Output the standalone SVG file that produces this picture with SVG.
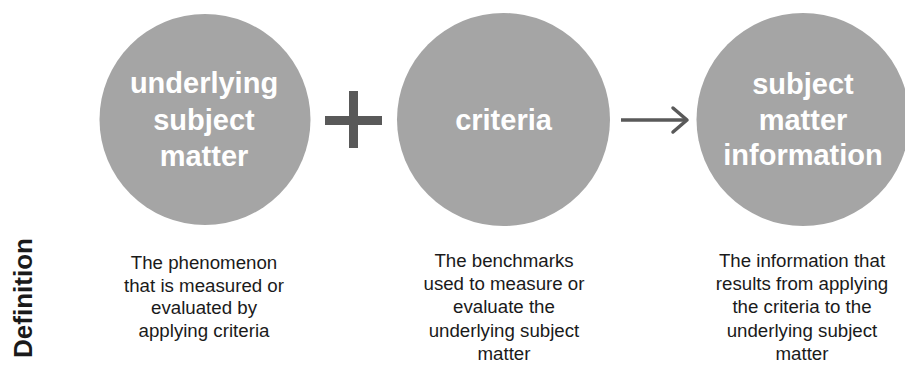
<svg xmlns="http://www.w3.org/2000/svg" width="905" height="367" viewBox="0 0 905 367">
<style>
.c{fill:#a5a5a5}
.t{font-family:"Liberation Sans",Arial,sans-serif;font-weight:bold;font-size:29px;fill:#ffffff;text-anchor:middle}
.d{font-family:"Liberation Sans",Arial,sans-serif;font-size:18.7px;fill:#1a1a1a;text-anchor:middle}
.lbl{font-family:"Liberation Sans",Arial,sans-serif;font-weight:bold;font-size:26px;fill:#1a1a1a;text-anchor:middle}
.op{stroke:#595959;fill:none}
</style>
<rect width="905" height="367" fill="#ffffff"/>
<g id="node-underlying">
<circle class="c" cx="205" cy="119.5" r="105.5"/>
<text class="t" x="204" y="93">underlying</text>
<text class="t" x="204" y="130">subject</text>
<text class="t" x="204" y="166">matter</text>
</g>
<g id="node-criteria">
<circle class="c" cx="503.5" cy="119.5" r="106.5"/>
<text class="t" x="503.5" y="130">criteria</text>
</g>
<g id="node-information">
<circle class="c" cx="803" cy="119.5" r="106.5"/>
<text class="t" x="803" y="94">subject</text>
<text class="t" x="803" y="130">matter</text>
<text class="t" x="803" y="165">information</text>
</g>
<g id="connectors">
<path class="op" d="M325 120.5H382M353.5 91V148" stroke-width="9"/>
<path class="op" d="M621 120H686" stroke-width="3.5"/>
<path class="op" d="M673 108L687 120L673 132" stroke-width="3.5" stroke-linecap="round" stroke-linejoin="round"/>
</g>
<g id="label-definition">
<text class="lbl" transform="translate(32 298) rotate(-90)" x="0" y="0">Definition</text>
</g>
<g id="desc-underlying">
<text class="d" x="204" y="269">The phenomenon</text>
<text class="d" x="204" y="292">that is measured or</text>
<text class="d" x="204" y="314">evaluated by</text>
<text class="d" x="204" y="337">applying criteria</text>
</g>
<g id="desc-criteria">
<text class="d" x="504" y="267">The benchmarks</text>
<text class="d" x="504" y="290">used to measure or</text>
<text class="d" x="504" y="313">evaluate the</text>
<text class="d" x="504" y="337">underlying subject</text>
<text class="d" x="504" y="360">matter</text>
</g>
<g id="desc-information">
<text class="d" x="802" y="267">The information that</text>
<text class="d" x="802" y="290">results from applying</text>
<text class="d" x="802" y="313">the criteria to the</text>
<text class="d" x="802" y="337">underlying subject</text>
<text class="d" x="802" y="360">matter</text>
</g>
</svg>
